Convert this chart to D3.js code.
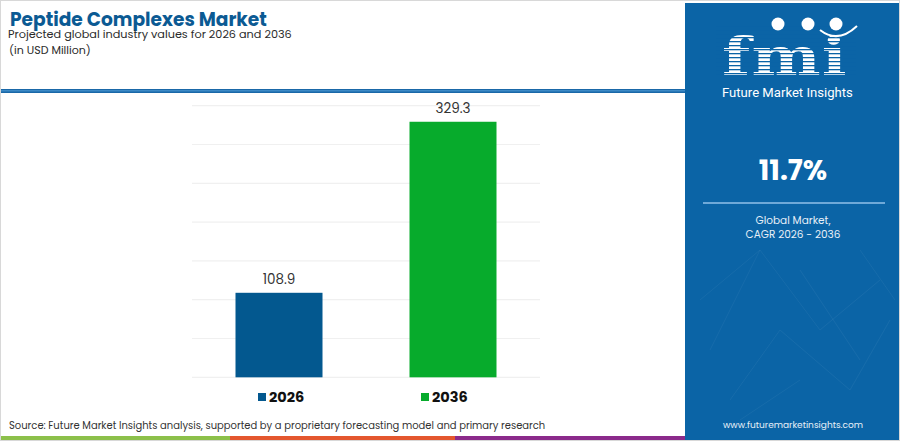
<!DOCTYPE html>
<html><head><meta charset="utf-8">
<script src="https://cdn.jsdelivr.net/npm/d3@7"></script>
<style>body{margin:0;background:#fff}svg{display:block}</style>
</head><body><svg id="c" width="900" height="441"></svg>
<script>
const categories = ["2026", "2036"];
const values = [108.9, 329.3];
const barColors = ["#03588f", "#07ab2c"];
const yTicks = [0, 50, 100, 150, 200, 250, 300, 350];
const cagr = "11.7%";

const svg = d3.select("#c");
const W = 900, H = 441;
const font = "Poppins, Inter, 'Noto Sans', sans-serif";

svg.append("rect").attr("width", W).attr("height", H).attr("fill", "#fff");

function fit(sel, w) {
  const n = sel.node(); const l = n.getComputedTextLength();
  const fs = parseFloat(sel.attr("font-size"));
  sel.attr("font-size", fs * w / l);
  return sel;
}

// Title block
fit(svg.append("text").attr("x", 10).attr("y", 26).attr("font-family", font).attr("font-weight", 700)
  .attr("font-size", 20).attr("fill", "#0b5a93").text("Peptide Complexes Market"), 257);
fit(svg.append("text").attr("x", 8).attr("y", 38).attr("font-family", font)
  .attr("font-size", 14).attr("fill", "#2b2b2b").text("Projected global industry values for 2026 and 2036"), 284);
fit(svg.append("text").attr("x", 9).attr("y", 54).attr("font-family", font)
  .attr("font-size", 14).attr("fill", "#2b2b2b").text("(in USD Million)"), 82);

// separator line
svg.append("rect").attr("x", 0).attr("y", 89).attr("width", 685).attr("height", 4).attr("fill", "#1a68a8");
svg.append("rect").attr("x", 0).attr("y", 90).attr("width", 685).attr("height", 1.5).attr("fill", "#3d8ac6");

// Chart
const x = d3.scaleBand().domain(categories).range([192, 540]).paddingInner(0.5).paddingOuter(0.25);
const y = d3.scaleLinear().domain([0, 350]).range([377.3, 105.7]);

svg.append("g").selectAll("line").data(yTicks).join("line")
  .attr("x1", 192).attr("x2", 540).attr("y1", d => y(d)).attr("y2", d => y(d))
  .attr("stroke", "#f0f0f0").attr("stroke-width", 1.2);

svg.append("g").selectAll("rect").data(values).join("rect")
  .attr("x", (d, i) => x(categories[i])).attr("width", x.bandwidth())
  .attr("y", d => y(d)).attr("height", d => y(0) - y(d))
  .attr("fill", (d, i) => barColors[i]);

svg.append("g").selectAll("text").data(values).join("text")
  .attr("x", (d, i) => x(categories[i]) + x.bandwidth() / 2).attr("y", d => y(d) - 9)
  .attr("text-anchor", "middle").attr("font-family", font).attr("font-size", 13.5)
  .attr("fill", "#333").text(d => d.toFixed(1));

// legend
const legX = [258, 421];
const lg = svg.append("g").selectAll("g").data(categories).join("g");
lg.append("rect").attr("x", (d, i) => legX[i]).attr("y", 393).attr("width", 8).attr("height", 8)
  .attr("fill", (d, i) => barColors[i]);
lg.append("text").attr("x", (d, i) => legX[i] + 11).attr("y", 401.5).attr("font-family", font)
  .attr("font-weight", 700).attr("font-size", 14.5).attr("fill", "#111").text(d => d);

// Source
fit(svg.append("text").attr("x", 9).attr("y", 429).attr("font-family", font).attr("font-size", 11.5)
  .attr("fill", "#333").text("Source: Future Market Insights analysis, supported by a proprietary forecasting model and primary research"), 537);

// bottom bars
const stripes = [[0, 230, "#8cc04a"], [230, 455, "#e4572e"], [455, 685, "#8b2a8b"]];
svg.append("g").selectAll("rect").data(stripes).join("rect")
  .attr("x", d => d[0]).attr("width", d => d[1] - d[0]).attr("y", 436).attr("height", 5).attr("fill", d => d[2]);

// Right panel
svg.append("rect").attr("x", 685).attr("y", 3).attr("width", 215).attr("height", H - 3).attr("fill", "#0b64a6");
// faint network lines
const net = [[700,300,760,250],[760,250,820,330],[820,330,880,280],[730,400,780,330],[780,330,850,390],[850,390,890,320],[710,350,760,250],[800,270,860,360],[740,420,800,380],[860,250,895,300]];
svg.append("g").selectAll("line").data(net).join("line")
  .attr("x1", d => d[0]).attr("y1", d => d[1]).attr("x2", d => d[2]).attr("y2", d => d[3])
  .attr("stroke", "#ffffff").attr("stroke-opacity", 0.05).attr("stroke-width", 1);

// logo
const logo = svg.append("g");
const ft = logo.append("text").attr("x", 0).attr("y", 0)
  .attr("font-family", "'DejaVu Serif', 'Liberation Serif', serif").attr("font-weight", 700)
  .attr("font-size", 50).attr("fill", "#fff").attr("letter-spacing", 1).text("fmi");
const bb = ft.node().getBBox();
// scale glyphs to fit box 722..848 x 22..75
const sx = 126 / bb.width;
ft.attr("transform", `translate(${722 - bb.x * sx},75) scale(${sx},1.05)`);
for (let yy = 25; yy < 76; yy += 4) {
  logo.append("rect").attr("x", 716).attr("y", yy).attr("width", 140).attr("height", 1.3).attr("fill", "#0b64a6");
}
[[778, 24], [808, 24], [836, 24]].forEach(c => {
  logo.append("circle").attr("cx", c[0]).attr("cy", c[1]).attr("r", 6.5).attr("fill", "#fff");
});
logo.append("path").attr("d", "M820,30 Q838,44 857,26").attr("fill", "none").attr("stroke", "#fff").attr("stroke-width", 2);
fit(svg.append("text").attr("x", 722).attr("y", 97).attr("font-family", "'Liberation Sans Narrow', 'Roboto', sans-serif")
  .attr("font-size", 14).attr("fill", "#fff").text("Future Market Insights"), 131);

svg.append("text").attr("x", 793).attr("y", 180).attr("text-anchor", "middle").attr("font-family", font)
  .attr("font-weight", 700).attr("font-size", 28).attr("fill", "#fff").text(cagr);
svg.append("rect").attr("x", 703).attr("y", 202).attr("width", 182).attr("height", 2).attr("fill", "#6fa9d8");
svg.append("text").attr("x", 793).attr("y", 224).attr("text-anchor", "middle").attr("font-family", font)
  .attr("font-size", 10.5).attr("fill", "#e8f0f8").text("Global Market,");
svg.append("text").attr("x", 793).attr("y", 238).attr("text-anchor", "middle").attr("font-family", font)
  .attr("font-size", 10.5).attr("fill", "#e8f0f8").text("CAGR 2026 - 2036");
svg.append("text").attr("x", 793).attr("y", 428).attr("text-anchor", "middle").attr("font-family", font)
  .attr("font-size", 9).attr("fill", "#e8f0f8").text("www.futuremarketinsights.com");

// outer border
svg.append("rect").attr("x", 0.5).attr("y", 0.5).attr("width", W - 1).attr("height", H - 1)
  .attr("fill", "none").attr("stroke", "#d8d8d8");
</script></body></html>
